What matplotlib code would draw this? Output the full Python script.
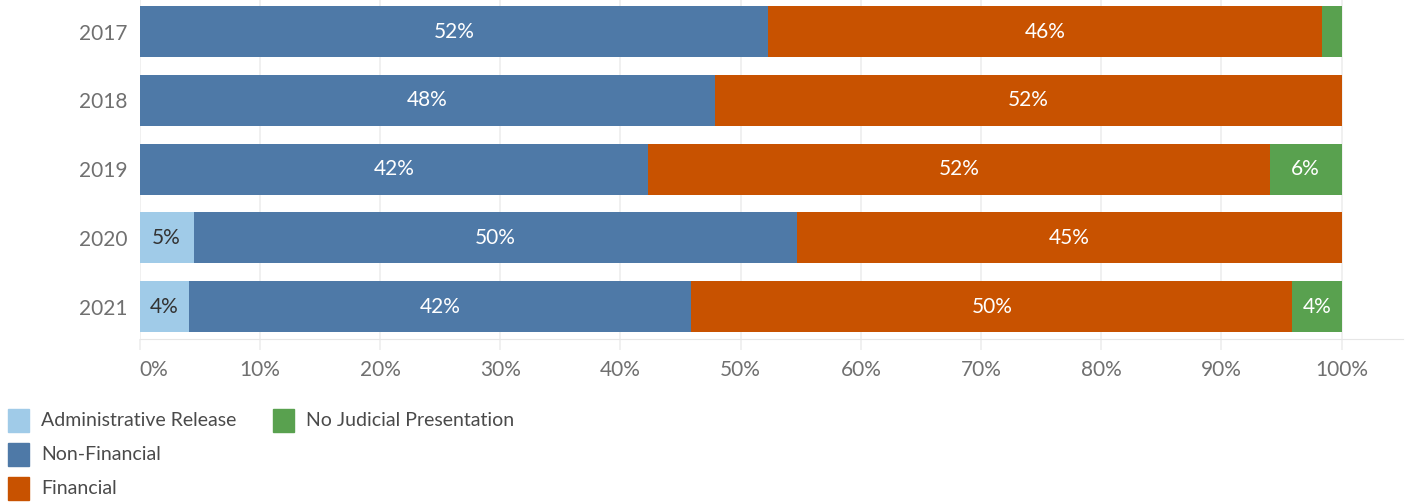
import matplotlib
matplotlib.use("Agg")
import matplotlib.pyplot as plt
from matplotlib.patches import Rectangle

# datos
years = ["2017", "2018", "2019", "2020", "2021"]
series = ["Administrative Release", "Non-Financial", "Financial", "No Judicial Presentation"]
admin_release = [0.0, 0.0, 0.0, 4.5, 4.1]
non_financial = [52.3, 47.9, 42.3, 50.2, 41.8]
financial = [46.1, 52.1, 51.7, 45.3, 50.0]
no_judicial = [1.6, 0.0, 6.0, 0.0, 4.1]
colors = ["#A0CBE8", "#4E79A7", "#C85200", "#59A14F"]
text_colors = ["#333333", "white", "white", "white"]

plt.rcParams["font.family"] = ["Lato", "DejaVu Sans"]

fig = plt.figure(figsize=(14.16, 5.03), dpi=100)
W, H = 1416, 503
ax = fig.add_axes([139.5 / W, 1 - 339 / H, (1403 - 139.5) / W, 339 / H])

y = list(range(len(years)))
left = [0.0] * len(years)
for vals, c, tc in zip([admin_release, non_financial, financial, no_judicial], colors, text_colors):
    ax.barh(y, vals, left=left, height=0.742, color=c, zorder=2)
    for i, v in enumerate(vals):
        if v >= 3:
            ax.text(left[i] + v / 2, i, "%d%%" % int(v + 0.5), ha="center", va="center",
                    color=tc, fontsize=15, zorder=3)
    left = [l + v for l, v in zip(left, vals)]

ax.set_xlim(0, 105.1)
ax.set_ylim(4.47, -0.458)
ax.set_yticks(y)
ax.set_yticklabels(years)
ax.set_xticks(range(0, 101, 10))
xlabels = ax.set_xticklabels(["%d%%" % t for t in range(0, 101, 10)])
xlabels[0].set_ha("left")  # 0% pegado al borde como en Tableau
ax.tick_params(axis="both", labelsize=15, labelcolor="#707070")
ax.tick_params(axis="y", length=0, pad=9)
ax.tick_params(axis="x", length=8, color="#eeeeee", width=1.2, pad=7)
ax.grid(axis="x", color="#eeeeee", linewidth=1.2, zorder=0)
for s in ["top", "right", "left"]:
    ax.spines[s].set_visible(False)
ax.spines["bottom"].set_color("#e6e6e6")

# leyenda
legend_pos = [(8, 409), (8, 443), (8, 477), (273, 409)]
for (px, py), name, c in zip(legend_pos, series, colors):
    fig.patches.append(Rectangle((px / W, 1 - (py + 23) / H), 21 / W, 23 / H,
                                 transform=fig.transFigure, color=c))
    fig.text((px + 33) / W, 1 - (py + 12) / H, name, va="center", ha="left",
             fontsize=14, color="#4a4a4a")

fig.savefig("out.png", dpi=100)
